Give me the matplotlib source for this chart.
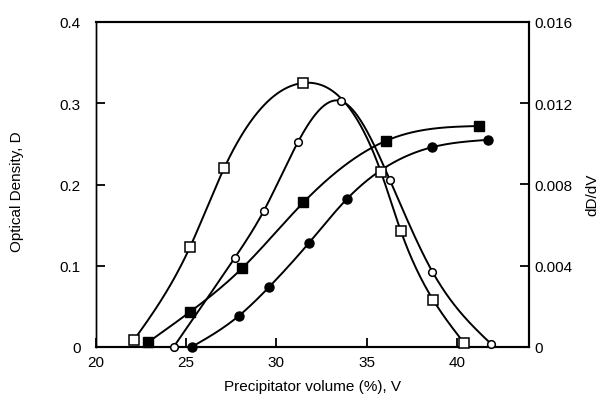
import numpy as np
import matplotlib
matplotlib.use("Agg")
import matplotlib.pyplot as plt

plt.rcParams['font.family'] = ['Liberation Sans', 'DejaVu Sans']

# ---------- data ----------
# open squares, derivative (right axis)
sq_open_v = [22.1, 25.2, 27.1, 31.5, 35.8, 36.9, 38.7, 40.4]
sq_open_d = [0.00034, 0.0049, 0.0088, 0.0130, 0.0086, 0.0057, 0.0023, 0.0002]

# open circles, derivative (right axis)
ci_open_v = [24.3, 27.7, 29.3, 31.2, 33.6, 36.3, 38.65, 41.9]
ci_open_d = [0.0, 0.0044, 0.0067, 0.0101, 0.0121, 0.0082, 0.0037, 0.00015]

# filled squares, optical density (left axis)
sq_fill_v = [22.9, 25.2, 28.1, 31.5, 36.1, 41.25]
sq_fill_D = [0.006, 0.043, 0.097, 0.178, 0.254, 0.272]

# filled circles, optical density (left axis)
ci_fill_v = [25.3, 27.9, 29.6, 31.8, 33.9, 38.65, 41.75]
ci_fill_D = [0.0, 0.038, 0.074, 0.128, 0.182, 0.246, 0.255]

x_ticks = [20, 25, 30, 35, 40]
left_ticks = [0, 0.1, 0.2, 0.3, 0.4]
left_labels = ["0", "0.1", "0.2", "0.3", "0.4"]
right_ticks = [0, 0.004, 0.008, 0.012, 0.016]
right_labels = ["0", "0.004", "0.008", "0.012", "0.016"]


def smooth(xs, ys, n=400):
    """Natural cubic spline through the points, only for drawing the line."""
    x = np.asarray(xs, float)
    y = np.asarray(ys, float)
    k = len(x)
    h = np.diff(x)
    A = np.zeros((k, k))
    r = np.zeros(k)
    A[0, 0] = A[-1, -1] = 1.0
    for i in range(1, k - 1):
        A[i, i - 1] = h[i - 1]
        A[i, i] = 2 * (h[i - 1] + h[i])
        A[i, i + 1] = h[i]
        r[i] = 6 * ((y[i + 1] - y[i]) / h[i] - (y[i] - y[i - 1]) / h[i - 1])
    m = np.linalg.solve(A, r)
    xx = np.linspace(x[0], x[-1], n)
    j = np.clip(np.searchsorted(x, xx) - 1, 0, k - 2)
    t = xx - x[j]
    hj = h[j]
    a = y[j]
    b = (y[j + 1] - y[j]) / hj - hj * (2 * m[j] + m[j + 1]) / 6
    c = m[j] / 2
    d = (m[j + 1] - m[j]) / (6 * hj)
    return xx, a + b * t + c * t ** 2 + d * t ** 3


W, H = 601, 402
fig = plt.figure(figsize=(W / 100, H / 100), dpi=100)
ax = fig.add_axes([96 / W, 1 - 348 / H, 433 / W, 325 / H])
ax2 = ax.twinx()

lw = 1.4
# left axis series
for v, d, mk, ms in [(sq_fill_v, sq_fill_D, "s", 7.5), (ci_fill_v, ci_fill_D, "o", 6.5)]:
    xs, ys = smooth(v, d)
    ax.plot(xs, ys, color="black", lw=lw, zorder=2)
    ax.plot(v, d, ls="none", marker=mk, ms=ms, color="black", zorder=3, clip_on=False)

# right axis series
for v, d, mk, ms in [(sq_open_v, sq_open_d, "s", 7.5), (ci_open_v, ci_open_d, "o", 5.5)]:
    xs, ys = smooth(v, d)
    ax2.plot(xs, ys, color="black", lw=lw, zorder=2)
    ax2.plot(v, d, ls="none", marker=mk, ms=ms, mfc="white", mec="black", mew=1.1,
             zorder=3, clip_on=False)

ax.set_xlim(20, 44)
ax.set_ylim(0, 0.4)
ax2.set_ylim(0, 0.016)

ax.set_xticks(x_ticks)
ax.set_yticks(left_ticks)
ax.set_yticklabels(left_labels)
ax2.set_yticks(right_ticks)
ax2.set_yticklabels(right_labels)

ax.tick_params(axis="x", direction="in", length=6.5, width=1.3, pad=6, labelsize=11)
ax.tick_params(axis="y", direction="in", length=6.5, width=1.3, pad=11, labelsize=11)
ax2.tick_params(axis="y", direction="in", length=6.5, width=1.3, pad=4, labelsize=11)

for a in (ax, ax2):
    for s in a.spines.values():
        s.set_linewidth(1.5)
    a.spines["left"].set_linewidth(1.0)

# keep twin axis background transparent so both show
ax2.patch.set_visible(False)

fig.text(312 / W, 1 - 387 / H, "Precipitator volume (%), V", ha="center", va="center", fontsize=11)
fig.text(17 / W, 1 - 192 / H, "Optical Density, D", ha="center", va="center",
         rotation=90, fontsize=11)
fig.text(592 / W, 1 - 195 / H, "dD/dV", ha="center", va="center", rotation=90, fontsize=11)

fig.savefig("out.png", dpi=100)
plt.close(fig)
